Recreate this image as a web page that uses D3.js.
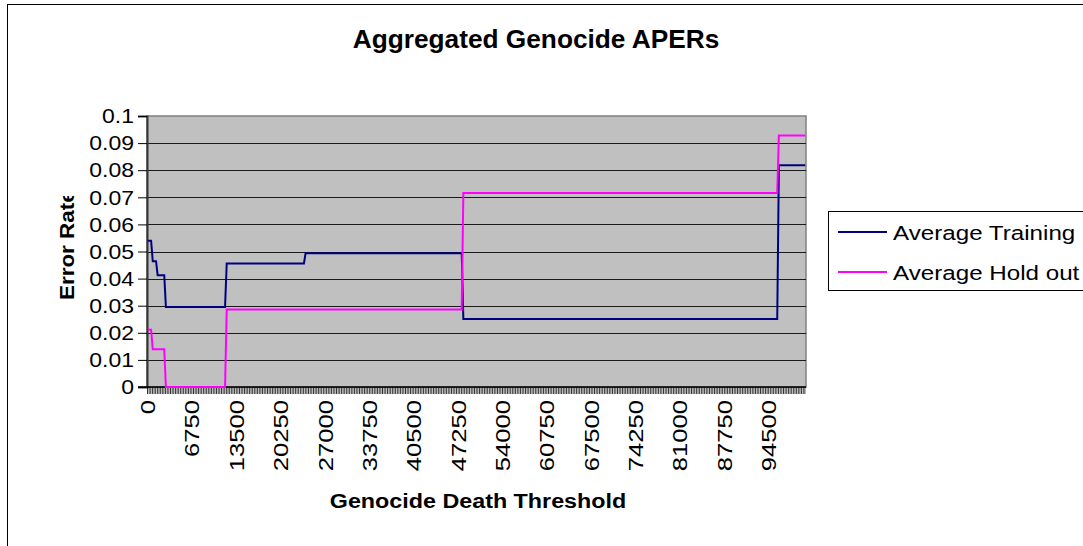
<!DOCTYPE html>
<html>
<head>
<meta charset="utf-8">
<script src="https://cdn.jsdelivr.net/npm/d3@7"></script>
<style>
  body { margin: 0; background: #fff; }
  svg { display: block; }
  text { font-family: "Liberation Sans", Arial, sans-serif; fill: #000; }
</style>
</head>
<body>
<div id="chart"></div>
<script>
// category axis: thresholds 0 .. 100000 in steps of 250
const catStart = 0, catEnd = 100000, catStep = 250;
const categories = d3.range(catStart, catEnd + 1, catStep);

// labelled categories (every 27th)
const xTickLabels = ["0", "6750", "13500", "20250", "27000", "33750", "40500", "47250",
    "54000", "60750", "67500", "74250", "81000", "87750", "94500"];
const yTicks = [0, 0.01, 0.02, 0.03, 0.04, 0.05, 0.06, 0.07, 0.08, 0.09, 0.1];

// step series: threshold where a value starts, and the value
const trainingBreaks = [0, 750, 1500, 2750, 12000, 24000, 48000, 96000];
const trainingValues = [0.054, 0.0464, 0.0412, 0.0295, 0.0456, 0.0494, 0.0251, 0.0818];
const holdoutBreaks = [0, 750, 2750, 12000, 48000, 96000];
const holdoutValues = [0.0211, 0.0139, 0, 0.0286, 0.0716, 0.0928];

const seriesNames = ["Average Training", "Average Hold out"];
const seriesColors = ["#000080", "#FF00FF"];

var w = 1083, h = 546;
var plot = { left: 147, right: 806, top: 116, bottom: 387 };

var svg = d3.select("#chart").append("svg")
    .attr("width", w)
    .attr("height", h);

// outer chart border (runs off the right and bottom of the picture)
svg.append("rect")
    .attr("x", 7.5).attr("y", 4.5)
    .attr("width", w + 20).attr("height", h + 20)
    .attr("fill", "#fff")
    .attr("stroke", "#000")
    .attr("stroke-width", 1);

var x = d3.scaleBand()
    .domain(categories)
    .range([plot.left, plot.right])
    .padding(0);

var y = d3.scaleLinear()
    .domain([0, 0.1])
    .range([plot.bottom, plot.top]);

const cx = c => x(c) + x.bandwidth() / 2;

// helper for the wide-looking excel text
function label(parent, tx, ty, str, size, sx, opts) {
    opts = opts || {};
    var g = parent.append("g")
        .attr("transform", `translate(${tx},${ty})` + (opts.rotate ? ` rotate(${opts.rotate})` : "") + ` scale(${sx},1)`);
    return g.append("text")
        .attr("text-anchor", opts.anchor || "middle")
        .attr("dy", opts.dy || 0)
        .style("font-size", size + "px")
        .style("font-weight", opts.bold ? "bold" : "normal")
        .text(str);
}

// plot background
svg.append("rect")
    .attr("x", plot.left).attr("y", plot.top)
    .attr("width", plot.right - plot.left)
    .attr("height", plot.bottom - plot.top)
    .attr("fill", "#C0C0C0")
    .attr("stroke", "#808080")
    .attr("stroke-width", 1.5);

// gridlines
svg.append("g")
    .selectAll("line")
    .data(yTicks.slice(1, -1))
    .join("line")
    .attr("x1", plot.left).attr("x2", plot.right)
    .attr("y1", d => Math.round(y(d)) + 0.5).attr("y2", d => Math.round(y(d)) + 0.5)
    .attr("stroke", "#1a1a1a")
    .attr("stroke-width", 1);

// y axis
var yAxis = svg.append("g")
    .attr("transform", `translate(${plot.left},0)`)
    .call(d3.axisLeft(y).tickValues(yTicks).tickSize(9).tickFormat(""));
yAxis.select(".domain").attr("stroke", "#333").attr("stroke-width", 2);
yAxis.selectAll(".tick line").attr("stroke", "#000");

yTicks.forEach(d => {
    label(svg, 134, y(d), d3.format("~g")(d), 20, 1.15, { anchor: "end", dy: "0.36em" });
});

// x axis: a tick at every category boundary
var xAxis = svg.append("g")
    .attr("transform", `translate(0,${plot.bottom})`);
xAxis.selectAll("line")
    .data(categories)
    .join("line")
    .attr("x1", d => x(d) + 0.5).attr("x2", d => x(d) + 0.5)
    .attr("y1", 0).attr("y2", 7)
    .attr("stroke", "#000")
    .attr("stroke-width", 0.8);
xAxis.append("line")
    .attr("x1", plot.left - 9).attr("x2", plot.right)
    .attr("y1", 0).attr("y2", 0)
    .attr("stroke", "#000")
    .attr("stroke-width", 1.5);

xTickLabels.forEach(t => {
    label(svg, cx(+t), 400, t, 20, 1.28, { anchor: "end", rotate: -90, dy: "0.36em" });
});

// the two step lines
const valueAt = (breaks, values) => c => values[d3.bisectRight(breaks, c) - 1];
var series = [
    categories.map(valueAt(trainingBreaks, trainingValues)),
    categories.map(valueAt(holdoutBreaks, holdoutValues))
];

var line = d3.line()
    .x((d, i) => cx(categories[i]))
    .y(d => y(d));

svg.append("g")
    .selectAll("path")
    .data(series)
    .join("path")
    .attr("fill", "none")
    .attr("stroke", (d, i) => seriesColors[i])
    .attr("stroke-width", 2)
    .attr("d", line);

// titles
label(svg, 536, 48, "Aggregated Genocide APERs", 25, 1.05, { bold: true });
label(svg, 478, 508, "Genocide Death Threshold", 21, 1.11, { bold: true });

// y title, cut short at the top like the original
svg.append("clipPath").attr("id", "ytitle-clip")
    .append("rect").attr("x", 0).attr("y", 196).attr("width", 140).attr("height", 200);
var yt = svg.append("g").attr("clip-path", "url(#ytitle-clip)");
label(yt, 74, 300, "Error Rate", 19.5, 1.15, { bold: true, anchor: "start", rotate: -90 });

// legend
var legend = svg.append("g");
legend.append("rect")
    .attr("x", 828.5).attr("y", 211.5)
    .attr("width", 300).attr("height", 79)
    .attr("fill", "#fff")
    .attr("stroke", "#000")
    .attr("stroke-width", 1);

seriesNames.forEach((name, i) => {
    var ly = 232 + i * 40;
    legend.append("line")
        .attr("x1", 838).attr("x2", 887)
        .attr("y1", ly).attr("y2", ly)
        .attr("stroke", seriesColors[i])
        .attr("stroke-width", 2);
    label(legend, 893, ly + 5, name, 19.5, 1.24, { anchor: "start", dy: "0.15em" });
});
</script>
</body>
</html>
